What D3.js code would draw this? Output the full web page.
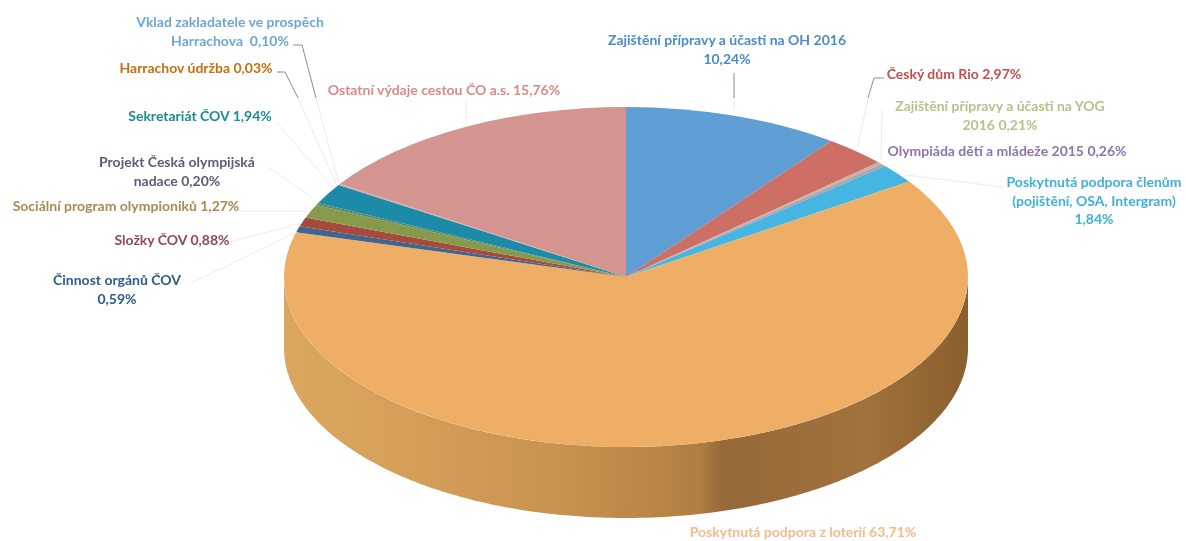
<!DOCTYPE html>
<html><head><meta charset="utf-8">
<script src="https://cdn.jsdelivr.net/npm/d3@7"></script>
<style>html,body{margin:0;padding:0;background:#fff}svg{display:block}text{font-family:Lato,"Open Sans",sans-serif;font-weight:700;font-size:14px}</style>
</head><body><svg id="c" width="1186" height="541"></svg>
<script>
const categories=["Zajištění přípravy a účasti na OH 2016","Český dům Rio","Zajištění přípravy a účasti na YOG 2016","Olympiáda dětí a mládeže 2015","Poskytnutá podpora členům (pojištění, OSA, Intergram)","Poskytnutá podpora z loterií","Činnost orgánů ČOV","Složky ČOV","Sociální program olympioniků","Projekt Česká olympijská nadace","Sekretariát ČOV","Harrachov údržba","Vklad zakladatele ve prospěch Harrachova","Ostatní výdaje cestou ČO a.s."];
const values=[10.24,2.97,0.21,0.26,1.84,63.71,0.59,0.88,1.27,0.20,1.94,0.03,0.10,15.76];
const colors=["#5f9fd6","#cd6f64","#c4b3a0","#b0a0b0","#45b5e2","#efae66","#3f6690","#a64a3e","#879a4c","#5a8a6a","#1c8ba8","#c9a0a0","#cfa0a0","#d49590"];
const labelLines=[["Zajištění přípravy a účasti na OH 2016","10,24%"],["Český dům Rio 2,97%"],["Zajištění přípravy a účasti na YOG","2016 0,21%"],["Olympiáda dětí a mládeže 2015 0,26%"],["Poskytnutá podpora členům","(pojištění, OSA, Intergram)","1,84%"],["Poskytnutá podpora z loterií 63,71%"],["Činnost orgánů ČOV","0,59%"],["Složky ČOV 0,88%"],["Sociální program olympioniků 1,27%"],["Projekt Česká olympijská","nadace 0,20%"],["Sekretariát ČOV 1,94%"],["Harrachov údržba 0,03%"],["Vklad zakladatele ve prospěch","Harrachova  0,10%"],["Ostatní výdaje cestou ČO a.s. 15,76%"]];
const labelColors=["#4a8ccb","#c0504d","#b5c28a","#8c74a8","#3fb0d8","#f2bb8a","#2f5a88","#8f4a55","#a98a50","#5f5a78","#1f8a94","#c56f10","#6fa6d6","#d98a86"];
// layout (pixels), separate from data
const labelPos=[[727,45],[954,79],[1000,111],[1007,156],[1094,187],[803,537],[117,285],[172,245],[126,211],[177,167],[200,121],[196,73],[230,27],[444,95]];
const leadDark=[[[734,73],[734,98]],[[884,78],[874,78],[868,98]],[],[],[],[],[],[],[],[],[],[[277,72],[285,72],[298,98]],[[293,45],[302,45],[316,98]],[]];
const leadFaint=[[[734,98],[734,110]],[[868,98],[858,147]],[[882,110],[881,160]],[],[[1002,187],[906,175]],[],[[191,283],[297,232]],[[230,242],[302,223]],[[241,211],[306,211]],[[268,167],[312,197]],[[276,122],[333,187]],[[298,98],[337,186]],[[316,98],[339,184]],[[466,100],[466,125]]];
const cx=626,cy=277,rx=342,ry=170,depth=71;
const svg=d3.select("#c");
const defs=svg.append("defs");
const g=defs.append("linearGradient").attr("id","wall").attr("gradientUnits","userSpaceOnUse").attr("x1",cx-rx).attr("x2",cx+rx).attr("y1",0).attr("y2",0);
[[0,"#dba660"],[.2,"#d49e59"],[.4,"#c8924f"],[.55,"#b98545"],[.61,"#ad7d42"],[.64,"#96693a"],[.85,"#a0723c"],[1,"#8a5f2f"]].forEach(s=>g.append("stop").attr("offset",s[0]).attr("stop-color",s[1]));
defs.append("filter").attr("id","soft").attr("x","-5%").attr("y","-20%").attr("width","110%").attr("height","140%").append("feGaussianBlur").attr("stdDeviation",0.45);
const pie=d3.pie().sort(null).value(d=>d)(values);
const px=d3.scaleLinear().domain([-1,1]).range([cx-rx,cx+rx]);
const py=d3.scaleLinear().domain([-1,1]).range([cy+ry,cy-ry]);
// wall
const wallAngles=d3.range(Math.PI/2,3*Math.PI/2+0.001,0.01);
const outer=wallAngles.map(a=>[px(Math.sin(a)),py(Math.cos(a))]);
const wallPts=outer.concat(outer.slice().reverse().map(p=>[p[0],p[1]+depth]));
svg.append("path").attr("d",d3.line().curve(d3.curveLinearClosed)(wallPts)).attr("fill","url(#wall)");
// top face
const arc=d3.arc().innerRadius(0).outerRadius(rx);
svg.append("g").attr("transform",`translate(${cx},${cy}) scale(1,${ry/rx})`).selectAll("path").data(pie).join("path")
 .attr("d",arc).attr("fill",(d,i)=>colors[i]);
// leaders
const line=d3.line();
svg.append("g").attr("fill","none").attr("stroke","#ececec").attr("stroke-width",1).selectAll("path").data(leadFaint.filter(d=>d.length)).join("path").attr("d",line);
svg.append("g").attr("fill","none").attr("stroke","#8c8c8c").attr("stroke-width",1).selectAll("path").data(leadDark.filter(d=>d.length)).join("path").attr("d",line);
// labels
const lg=svg.append("g").attr("filter","url(#soft)");
labelLines.forEach((ls,i)=>{
 const t=lg.append("text").attr("text-anchor","middle").attr("fill",labelColors[i]);
 ls.forEach((l,j)=>t.append("tspan").attr("x",labelPos[i][0]).attr("y",labelPos[i][1]+j*18.5).attr("xml:space","preserve").text(l));
});
</script></body></html>
